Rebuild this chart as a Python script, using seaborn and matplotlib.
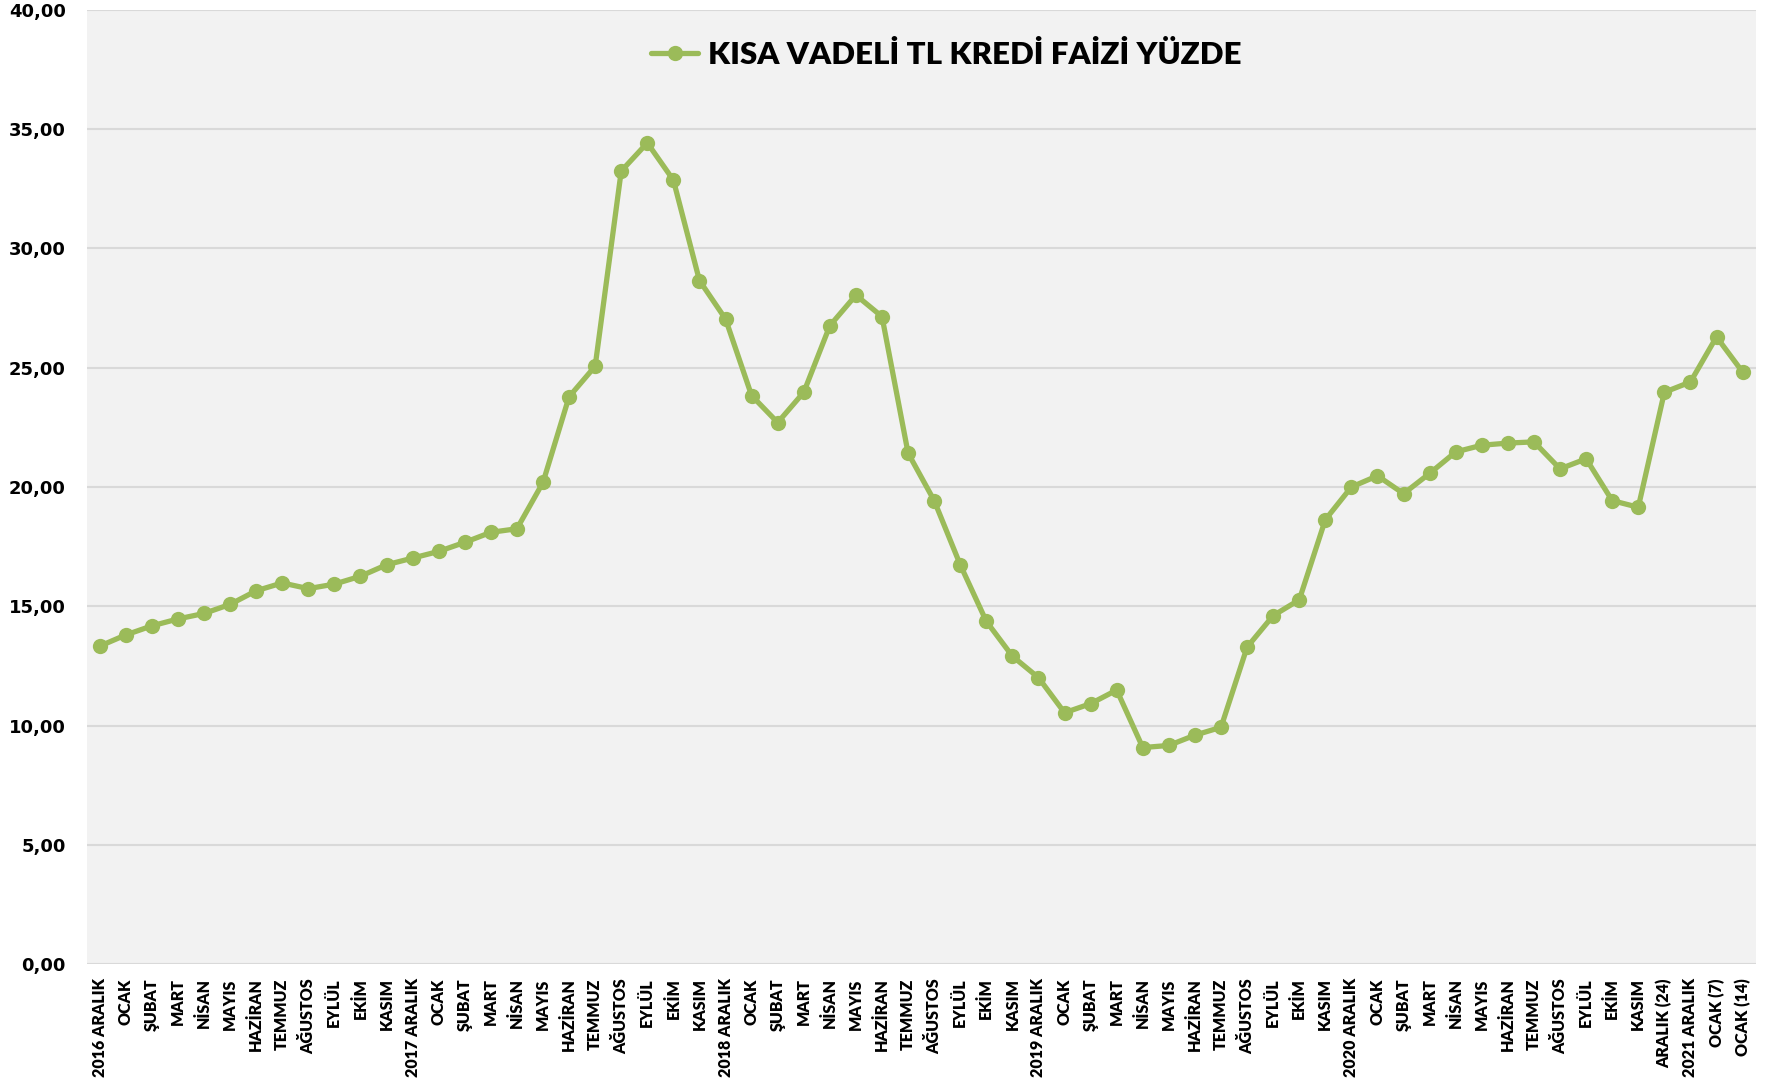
import pandas as pd
import seaborn as sns
import matplotlib.pyplot as plt
import matplotlib.ticker as ticker

# Month labels on the x axis (64 observations)
labels = [
    "2016 ARALIK", "OCAK", "ŞUBAT", "MART", "NİSAN", "MAYIS", "HAZİRAN", "TEMMUZ",
    "AĞUSTOS", "EYLÜL", "EKİM", "KASIM",
    "2017 ARALIK", "OCAK", "ŞUBAT", "MART", "NİSAN", "MAYIS", "HAZİRAN", "TEMMUZ",
    "AĞUSTOS", "EYLÜL", "EKİM", "KASIM",
    "2018 ARALIK", "OCAK", "ŞUBAT", "MART", "NİSAN", "MAYIS", "HAZİRAN", "TEMMUZ",
    "AĞUSTOS", "EYLÜL", "EKİM", "KASIM",
    "2019 ARALIK", "OCAK", "ŞUBAT", "MART", "NİSAN", "MAYIS", "HAZİRAN", "TEMMUZ",
    "AĞUSTOS", "EYLÜL", "EKİM", "KASIM",
    "2020 ARALIK", "OCAK", "ŞUBAT", "MART", "NİSAN", "MAYIS", "HAZİRAN", "TEMMUZ",
    "AĞUSTOS", "EYLÜL", "EKİM", "KASIM",
    "ARALIK (24)", "2021 ARALIK", "OCAK (7)", "OCAK (14)",
]

# Short-term TL loan rate, percent
rates = [
    13.33, 13.80, 14.18, 14.47, 14.70, 15.08, 15.65, 15.98,
    15.74, 15.93, 16.26, 16.74,
    17.02, 17.30, 17.68, 18.10, 18.25, 20.19, 23.78, 25.06,
    33.24, 34.42, 32.86, 28.65,
    27.04, 23.83, 22.70, 23.97, 26.76, 28.04, 27.14, 21.42,
    19.43, 16.74, 14.37, 12.91,
    12.01, 10.54, 10.92, 11.49, 9.08, 9.17, 9.60, 9.93,
    13.29, 14.61, 15.27, 18.63,
    20.00, 20.47, 19.72, 20.57, 21.47, 21.75, 21.84, 21.89,
    20.76, 21.18, 19.43, 19.15,
    23.97, 24.40, 26.29, 24.82,
]

series_name = "KISA VADELİ TL KREDİ FAİZİ YÜZDE"

df = pd.DataFrame({"idx": range(len(rates)), "rate": rates, "seri": series_name})

sns.set_style("white")
plt.rcParams["font.family"] = ["Lato", "DejaVu Sans"]
plt.rcParams["text.color"] = "black"

fig = plt.figure(figsize=(17.68, 10.81), dpi=100, facecolor="white")
ax = fig.add_axes([0.049, 0.108, 0.944, 0.883])
ax.set_facecolor("#F2F2F2")

sns.lineplot(data=df, x="idx", y="rate", hue="seri", palette=["#9BBB59"],
             marker="o", markersize=11, markeredgewidth=0, linewidth=3.8, ax=ax)

ax.set_xlim(-0.5, len(rates) - 0.5)
ax.set_ylim(0, 40)
ax.yaxis.set_major_locator(ticker.MultipleLocator(5))
ax.yaxis.set_major_formatter(ticker.FuncFormatter(lambda v, p: f"{v:.2f}".replace(".", ",")))
ax.grid(axis="y", color="#D9D9D9", linewidth=1.5)
ax.set_axisbelow(True)
for s in ax.spines.values():
    s.set_visible(False)

ax.set_xticks(range(len(labels)))
ax.set_xticklabels(labels, rotation=90, fontsize=11.5, fontweight="heavy",
                   family=["Lato", "DejaVu Sans"], color="black")
for t in ax.get_yticklabels():
    t.set_fontfamily("DejaVu Sans")
    t.set_fontweight("bold")
    t.set_fontsize(13)
    t.set_color("black")
ax.tick_params(axis="y", length=0, pad=15)
ax.tick_params(axis="x", length=0, pad=10)
ax.set_xlabel("")
ax.set_ylabel("")

leg = ax.legend(loc="upper center", bbox_to_anchor=(0.515, 0.997), frameon=False,
                prop={"family": "Lato", "weight": "heavy", "size": 22.5},
                handlelength=1.5, handletextpad=0.3)
for t in leg.get_texts():
    t.set_color("black")

fig.savefig("out.png", dpi=100, facecolor="white")
